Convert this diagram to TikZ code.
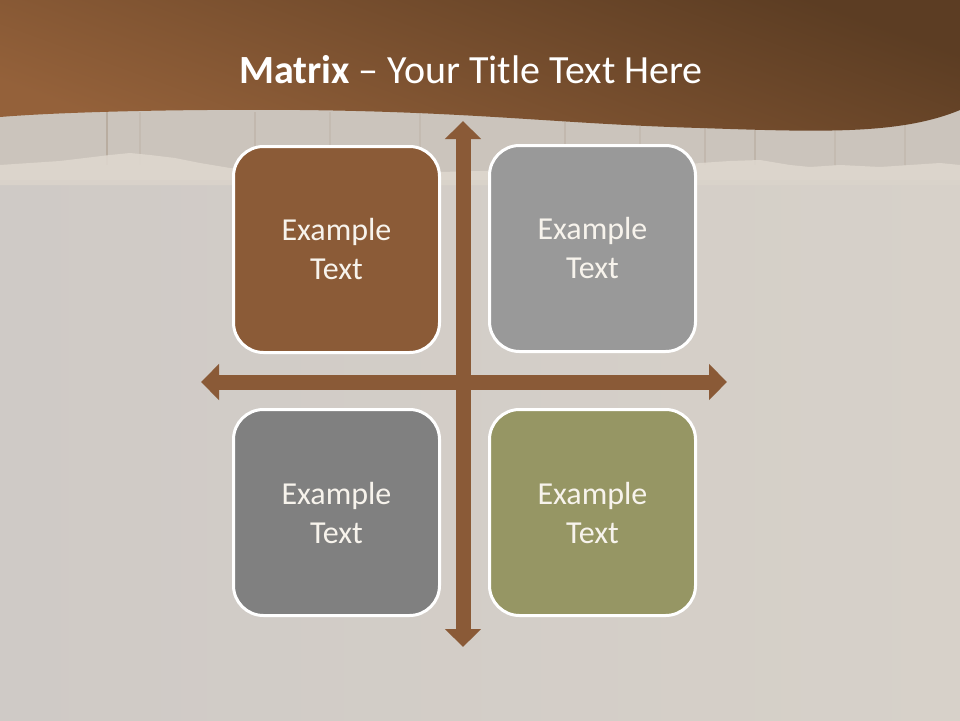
\documentclass[tikz,border=0pt]{standalone}
\usepackage{fontspec}
\setmainfont{Carlito}
\usetikzlibrary{arrows.meta}
\definecolor{stone}{HTML}{D7D1C9}
\definecolor{stoneleft}{HTML}{CFCAC6}
\definecolor{paper}{HTML}{DED7CE}
\definecolor{woodband}{HTML}{CBC4BC}
\definecolor{plank}{HTML}{B5A89A}
\definecolor{bandtop}{HTML}{5C3D23}
\definecolor{bandbot}{HTML}{94613A}
\definecolor{arrowbrown}{HTML}{8A5A37}
\definecolor{boxbrown}{HTML}{8B5B37}
\definecolor{boxgray}{HTML}{999999}
\definecolor{boxdark}{HTML}{808080}
\definecolor{boxolive}{HTML}{969664}
\definecolor{txt}{HTML}{F7F3EC}
\tikzset{
  cell/.style={draw=white, line width=3pt, rounded corners=30pt, minimum width=206pt, minimum height=206pt,
    text=txt, font=\fontsize{32}{39}\selectfont, align=center, inner sep=0pt},
  axis/.style={arrowbrown, line width=15pt,
    {Triangle[width=35pt,length=18pt]}-{Triangle[width=35pt,length=18pt]}},
}
\begin{document}
\begin{tikzpicture}[x=1pt,y=-1pt]
\useasboundingbox (0,0) rectangle (960,720);
% background
\shade[left color=stoneleft, middle color=stone, right color=stone] (0,0) rectangle (960,720);
% wood band
\fill[woodband] (0,100) rectangle (960,180);
\foreach \px/\op in {107/0.8,140/0.3,255/0.4,330/0.3,420/0.3,565/0.4,640/0.3,705/0.4,755/0.5,835/0.3,905/0.3}
  \draw[plank, line width=1.2pt, opacity=\op] (\px,112) -- (\px,165);
% torn paper edge
\fill[paper, opacity=0.9] (0,185) -- (0,165) -- (30,163) -- (60,161) -- (85,158) -- (110,155) -- (130,153) -- (150,155) -- (175,158)
  -- (200,163) -- (230,168) -- (300,172) -- (380,171) -- (440,172) -- (520,170) -- (600,171) -- (660,168) -- (700,163)
  -- (730,161) -- (760,160) -- (790,165) -- (810,167) -- (840,165) -- (880,167) -- (910,165) -- (940,163) -- (960,165) -- (960,185) -- cycle;
\fill[stone, opacity=0.5] (0,180) rectangle (960,185);
% top banner
\shade[top color=bandtop, bottom color=bandbot, shading angle=-20]
  (0,0) -- (960,0) -- (960,110) .. controls (900,135) and (820,132) .. (700,128)
  .. controls (560,124) and (480,112) .. (300,110) .. controls (180,109) and (60,112) .. (0,117) -- cycle;
% title
\node[text=white, font=\fontsize{40}{46}\selectfont] (title) at (471,70) {\textbf{Matrix} -- Your Title Text Here};
% axes
\coordinate (vt) at (463,121);
\coordinate (vb) at (463,647);
\coordinate (hl) at (201,382);
\coordinate (hr) at (727,382);
\draw[axis] (vt) -- (vb);
\draw[axis] (hl) -- (hr);
% cells
\node[cell, fill=boxbrown] (tl) at (336.5,249.5) {Example\\Text};
\node[cell, fill=boxgray] (tr) at (592.5,248.5) {Example\\Text};
\node[cell, fill=boxdark] (bl) at (336.5,512.5) {Example\\Text};
\node[cell, fill=boxolive] (br) at (592.5,512.5) {Example\\Text};
\end{tikzpicture}
\end{document}
